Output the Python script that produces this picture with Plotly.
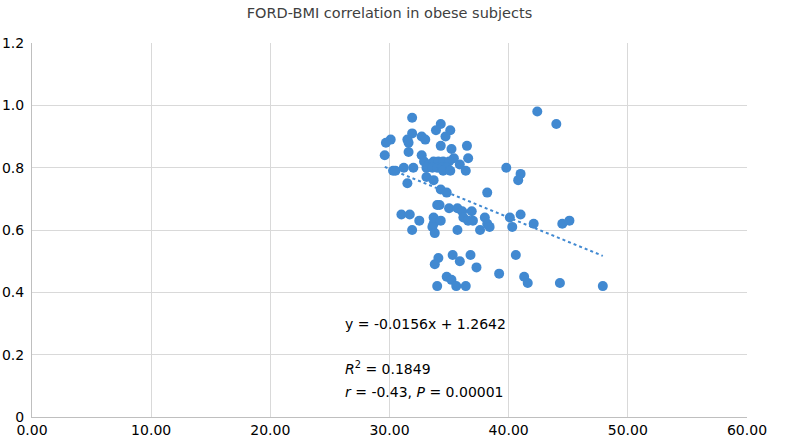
import plotly.graph_objects as go

title_text = "FORD-BMI correlation in obese subjects"

bmi = [31.9, 30.1, 29.7, 31.9, 31.5, 31.6, 29.6, 31.6, 30.3, 30.5,
       31.2, 32.0, 31.5, 34.3, 33.9, 35.1, 34.7, 32.7, 33.0, 34.3,
       36.5, 35.2, 32.7, 36.6, 35.4, 32.9, 33.3, 33.7, 34.1, 34.5,
       35.0, 33.1, 33.6, 34.0, 34.4, 34.8, 34.5, 35.1, 35.9, 36.4,
       33.1, 33.7, 34.3, 34.8, 38.2, 39.8, 41.0, 40.8, 42.4, 44.0,
       34.0, 34.2, 35.0, 35.7, 36.1, 36.9, 36.2, 36.6, 37.0, 38.0,
       38.2, 38.4, 37.6, 35.7, 33.7, 33.7, 33.6, 34.3, 33.8, 32.5,
       31.9, 31.0, 31.7, 40.1, 40.3, 41.0, 42.1, 44.5, 45.1,
       34.1, 33.8, 35.3, 35.9, 36.8, 37.3, 39.2, 34.8, 35.2, 35.6,
       36.4, 34.0, 40.6, 41.3, 41.6, 44.3, 47.9]

ford = [0.96, 0.89, 0.88, 0.91, 0.89, 0.88, 0.84, 0.85, 0.79, 0.79,
        0.80, 0.80, 0.75, 0.94, 0.92, 0.92, 0.90, 0.90, 0.89, 0.87,
        0.87, 0.86, 0.84, 0.83, 0.83, 0.82, 0.81, 0.82, 0.82, 0.82,
        0.82, 0.80, 0.80, 0.80, 0.80, 0.80, 0.79, 0.79, 0.81, 0.79,
        0.77, 0.76, 0.73, 0.72, 0.72, 0.80, 0.78, 0.76, 0.98, 0.94,
        0.68, 0.68, 0.67, 0.67, 0.66, 0.66, 0.64, 0.63, 0.63, 0.64,
        0.62, 0.61, 0.60, 0.60, 0.64, 0.62, 0.61, 0.63, 0.59, 0.63,
        0.60, 0.65, 0.65, 0.64, 0.61, 0.65, 0.62, 0.62, 0.63,
        0.51, 0.49, 0.52, 0.50, 0.52, 0.48, 0.46, 0.45, 0.44, 0.42,
        0.42, 0.42, 0.52, 0.45, 0.43, 0.43, 0.42]

slope = -0.0156
intercept = 1.2642

x_ticks = [0, 10, 20, 30, 40, 50, 60]
y_ticks = [0, 0.2, 0.4, 0.6, 0.8, 1.0, 1.2]
y_tick_labels = ["0", "0.2", "0.4", "0.6", "0.8", "1.0", "1.2"]

eq_text = "y = -0.0156x + 1.2642"
r2_text = "<i>R</i><sup>2</sup> = 0.1849"
r_text = "<i>r</i> = -0.43, <i>P</i> = 0.00001"

blue = "#4189D1"
font = "DejaVu Sans"

xmin, xmax = min(bmi), max(bmi)
trend_x = [xmin, xmax]
trend_y = [slope * v + intercept for v in trend_x]

fig = go.Figure()
fig.add_trace(go.Scatter(
    x=trend_x, y=trend_y, mode="lines",
    line=dict(color=blue, width=2, dash="dot"),
    hoverinfo="skip", showlegend=False))
fig.add_trace(go.Scatter(
    x=bmi, y=ford, mode="markers",
    marker=dict(color=blue, size=10, line=dict(width=0)),
    showlegend=False))

fig.update_layout(
    width=786, height=441,
    margin=dict(l=32, r=39, t=43, b=24),
    paper_bgcolor="white", plot_bgcolor="white",
    title=dict(text=title_text, xref="paper", x=0.5, xanchor="center",
               y=0.983, yanchor="top",
               font=dict(family=font, size=14.5, color="#404040")),
    font=dict(family=font, size=14, color="#000000"),
    xaxis=dict(range=[0, 60], tickvals=x_ticks, tickformat=".2f",
               showgrid=True, gridcolor="#d9d9d9", gridwidth=1,
               showline=True, linecolor="#bfbfbf", linewidth=1,
               zeroline=False, ticks="", tickfont=dict(size=14),
               automargin=False),
    yaxis=dict(range=[0, 1.2], tickvals=y_ticks, ticktext=y_tick_labels,
               showgrid=True, gridcolor="#d9d9d9", gridwidth=1,
               showline=True, linecolor="#bfbfbf", linewidth=1,
               zeroline=False, ticks="", tickfont=dict(size=14),
               ticklabelstandoff=4, automargin=False),
    annotations=[
        dict(x=26.1, y=0.30, xref="x", yref="y", text=eq_text, showarrow=False,
             xanchor="left", yanchor="middle", font=dict(family=font, size=14)),
        dict(x=26.1, y=0.157, xref="x", yref="y", text=r2_text, showarrow=False,
             xanchor="left", yanchor="middle", font=dict(family=font, size=14)),
        dict(x=26.1, y=0.08, xref="x", yref="y", text=r_text, showarrow=False,
             xanchor="left", yanchor="middle", font=dict(family=font, size=14)),
    ],
)

fig.write_html("out.html",
               config={"displayModeBar": False},
               post_script="document.body.style.margin='0px';document.body.style.overflow='hidden';")
